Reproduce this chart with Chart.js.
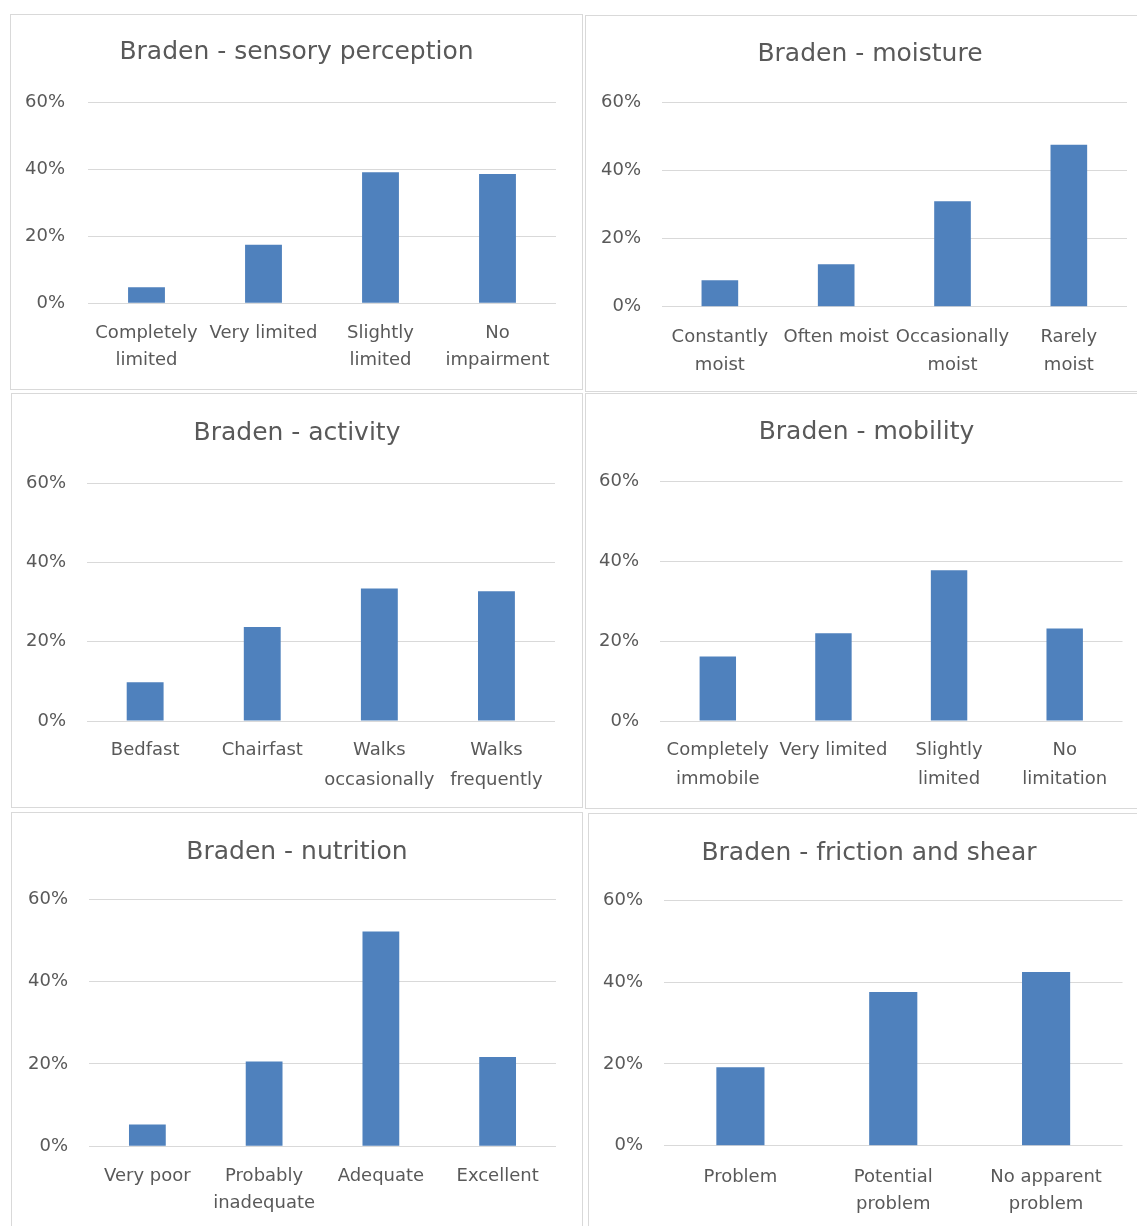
<!DOCTYPE html>
<html>
<head>
<meta charset="utf-8">
<script src="https://cdn.jsdelivr.net/npm/chart.js@4.4.1/dist/chart.umd.min.js"></script>
<style>
  html, body { margin: 0; padding: 0; background: #fff; }
  body { width: 1137px; height: 1226px; overflow: hidden; position: relative; }
  .panel { position: absolute; border: 1px solid #d9d9d9; box-sizing: border-box; }
  .panel .inner { position: absolute; left: -1px; top: -1px; }
</style>
</head>
<body>
<div id="root"></div>
<script>
// data (percent)
const yTicks = [0, 20, 40, 60];

const sensoryLabels = [["Completely", "limited"], "Very limited", ["Slightly", "limited"], ["No", "impairment"]];
const sensoryValues = [4.8, 17.5, 39.2, 38.7];

const moistureLabels = [["Constantly", "moist"], "Often moist", ["Occasionally", "moist"], ["Rarely", "moist"]];
const moistureValues = [7.8, 12.5, 31.0, 47.6];

const activityLabels = ["Bedfast", "Chairfast", ["Walks", "occasionally"], ["Walks", "frequently"]];
const activityValues = [9.8, 23.7, 33.4, 32.7];

const mobilityLabels = [["Completely", "immobile"], "Very limited", ["Slightly", "limited"], ["No", "limitation"]];
const mobilityValues = [16.2, 22.0, 37.8, 23.2];

const nutritionLabels = ["Very poor", ["Probably", "inadequate"], "Adequate", "Excellent"];
const nutritionValues = [5.3, 20.6, 52.2, 21.7];

const frictionLabels = ["Problem", ["Potential", "problem"], ["No apparent", "problem"]];
const frictionValues = [19.2, 37.6, 42.5];

const charts = [
  { title: "Braden - sensory perception", labels: sensoryLabels, values: sensoryValues },
  { title: "Braden - moisture", labels: moistureLabels, values: moistureValues },
  { title: "Braden - activity", labels: activityLabels, values: activityValues },
  { title: "Braden - mobility", labels: mobilityLabels, values: mobilityValues },
  { title: "Braden - nutrition", labels: nutritionLabels, values: nutritionValues },
  { title: "Braden - friction and shear", labels: frictionLabels, values: frictionValues },
];

// panel boxes and plot-area edges, in px relative to each panel
// (right-hand panels run past the edge of the picture)
const layouts = [
  { x: 10,  y: 14,  w: 573, h: 376, bw: 573, bh: 376, gl: 78,   gr: 546,   gt: 88.7, gb: 289.3, ty: 38, lr: 55, lo: 30,   lh: 27 },
  { x: 585, y: 15,  w: 570, h: 377, bw: 580, bh: 377, gl: 76.7, gr: 542,   gt: 87.7, gb: 291.7, ty: 39, lr: 56, lo: 31,   lh: 28 },
  { x: 11,  y: 393, w: 572, h: 415, bw: 572, bh: 415, gl: 75.6, gr: 544,   gt: 90,   gb: 328,   ty: 40, lr: 55, lo: 29,   lh: 30 },
  { x: 585, y: 393, w: 563, h: 416, bw: 580, bh: 416, gl: 75,   gr: 537.5, gt: 88.7, gb: 328,   ty: 39, lr: 54, lo: 29.7, lh: 29 },
  { x: 11,  y: 812, w: 572, h: 416, bw: 572, bh: 430, gl: 78,   gr: 545,   gt: 87.3, gb: 334.3, ty: 40, lr: 57, lo: 30,   lh: 27 },
  { x: 588, y: 813, w: 562, h: 416, bw: 580, bh: 430, gl: 76,   gr: 534.5, gt: 87.4, gb: 332.7, ty: 40, lr: 55, lo: 31.7, lh: 27 },
];

const textColor = "#595959";
const gridColor = "#d9d9d9";
const barColor = "#4f81bd";
const fontFamily = "'DejaVu Sans', sans-serif";

const root = document.getElementById("root");

charts.forEach((c, i) => {
  const L = layouts[i];
  const panel = document.createElement("div");
  panel.className = "panel";
  panel.style.left = L.x + "px";
  panel.style.top = L.y + "px";
  panel.style.width = L.bw + "px";
  panel.style.height = L.bh + "px";
  const inner = document.createElement("div");
  inner.className = "inner";
  inner.style.width = L.w + "px";
  inner.style.height = L.h + "px";
  const canvas = document.createElement("canvas");
  inner.appendChild(canvas);
  panel.appendChild(inner);
  root.appendChild(panel);

  new Chart(canvas.getContext("2d"), {
    type: "bar",
    data: {
      labels: c.labels,
      datasets: [
        {
          data: c.values,
          backgroundColor: barColor,
          borderWidth: 0,
          categoryPercentage: 1,
          barPercentage: 0.315,
        },
      ],
    },
    options: {
      responsive: true,
      maintainAspectRatio: false,
      animation: false,
      layout: { padding: 0 },
      plugins: {
        legend: { display: false },
        tooltip: { enabled: false },
        title: {
          display: true,
          text: c.title,
          color: textColor,
          font: { family: fontFamily, size: 25, weight: "normal", lineHeight: 1.2 },
          padding: { top: L.ty - 15, bottom: L.gt - L.ty - 15 },
        },
      },
      scales: {
        x: {
          grid: { display: false, drawTicks: false },
          border: { display: false },
          ticks: {
            color: textColor,
            font: { family: fontFamily, size: 18, lineHeight: L.lh + "px" },
            padding: L.lo - L.lh / 2,
            autoSkip: false,
            maxRotation: 0,
            minRotation: 0,
          },
          afterFit: (scale) => { scale.height = L.h - L.gb; },
        },
        y: {
          min: 0,
          max: 60,
          grid: { color: gridColor, lineWidth: 1, drawTicks: false },
          border: { display: false },
          ticks: {
            color: textColor,
            font: { family: fontFamily, size: 18 },
            padding: L.gl - L.lr,
            callback: (v) => v + "%",
          },
          afterBuildTicks: (scale) => { scale.ticks = yTicks.map((v) => ({ value: v })); },
          afterFit: (scale) => { scale.width = L.gl; },
        },
        // empty right-hand axis: keeps the plot's right margin while the title stays centred on the panel
        yRight: {
          position: "right",
          min: 0,
          max: 60,
          grid: { display: false, drawTicks: false },
          border: { display: false },
          ticks: { display: false },
          afterFit: (scale) => { scale.width = L.w - L.gr; },
        },
      },
    },
  });
});
</script>
</body>
</html>
